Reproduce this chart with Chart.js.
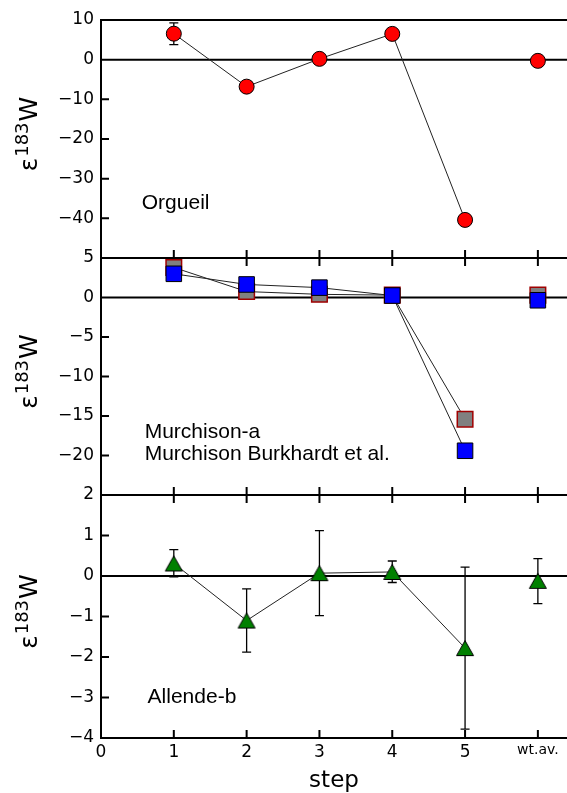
<!DOCTYPE html>
<html>
<head>
<meta charset="utf-8">
<script src="https://cdn.jsdelivr.net/npm/chart.js@4.4.1/dist/chart.umd.min.js"></script>
<style>
  html, body { margin: 0; padding: 0; background: #fff; }
  #wrap { position: relative; width: 567px; height: 793px; overflow: hidden; }
  #wrap canvas { position: absolute; left: 0; top: 0; }
</style>
</head>
<body>
<div id="wrap">
  <canvas id="orgueilChart" width="567" height="793"></canvas>
  <canvas id="murchisonChart" width="567" height="793"></canvas>
  <canvas id="allendeChart" width="567" height="793"></canvas>
</div>
<script>
// x positions: leaching steps 1-5, then the weighted average
const steps = [1, 2, 3, 4, 5, 6];
const stepTickLabels = ["0", "1", "2", "3", "4", "5", "wt.av."];

// Orgueil
const orgueil = [6.55, -6.8, 0.2, 6.5, -40.4, -0.3];
const orgueilLow = [3.8, null, null, null, null, null];
const orgueilHigh = [9.3, null, null, null, null, null];

// Murchison
const murchisonA = [3.8, 0.75, 0.4, 0.3, -15.4, 0.3];
const murchisonBurkhardt = [3.0, 1.65, 1.25, 0.25, -19.4, -0.35];

// Allende
const allendeB = [0.31, -1.1, 0.07, 0.1, -1.78, -0.12];
const allendeLow = [-0.02, -1.88, -0.98, -0.16, -3.78, -0.68];
const allendeHigh = [0.65, -0.32, 1.12, 0.37, 0.22, 0.43];

Chart.defaults.font.family = "'DejaVu Sans'";
Chart.defaults.color = "#000";

function points(values) {
  return steps.map((s, i) => ({ x: s, y: values[i] }));
}

function minus(v) {
  return v < 0 ? "\u2212" + Math.abs(v) : String(v);
}

// triangle marker centred on its bounding box (like matplotlib's '^')
function triangleMarker(fill) {
  const c = document.createElement("canvas");
  c.width = 22;
  c.height = 22;
  const g = c.getContext("2d");
  g.beginPath();
  g.moveTo(11, 3.5);
  g.lineTo(19.5, 18.5);
  g.lineTo(2.5, 18.5);
  g.closePath();
  g.fillStyle = fill;
  g.fill();
  g.lineWidth = 1;
  g.strokeStyle = "#000";
  g.stroke();
  return c;
}

const hideLastSegment = {
  borderColor: (c) => (c.p1DataIndex === steps.length - 1 ? "rgba(0,0,0,0)" : "#222"),
};

const panelFrame = {
  id: "panelFrame",
  beforeDatasetsDraw(chart, args, opts) {
    const { ctx, chartArea: a, scales: { x, y } } = chart;
    ctx.save();
    ctx.strokeStyle = "#000";
    ctx.lineWidth = 2;
    ctx.beginPath();
    ctx.moveTo(a.left, a.top);
    ctx.lineTo(a.right, a.top);
    ctx.moveTo(a.left, a.bottom);
    ctx.lineTo(a.right, a.bottom);
    ctx.moveTo(a.left, a.top - 1);
    ctx.lineTo(a.left, a.bottom + 1);
    const y0 = y.getPixelForValue(0);
    ctx.moveTo(a.left, y0);
    ctx.lineTo(a.right, y0);
    y.ticks.forEach((t) => {
      const py = y.getPixelForValue(t.value);
      ctx.moveTo(a.left, py);
      ctx.lineTo(a.left + 8, py);
    });
    steps.forEach((s) => {
      const px = x.getPixelForValue(s);
      ctx.moveTo(px, a.bottom);
      ctx.lineTo(px, a.bottom - 8);
      if (opts.topTicks) {
        ctx.moveTo(px, a.top);
        ctx.lineTo(px, a.top + 8);
      }
    });
    ctx.stroke();
    ctx.restore();
  },
  afterDraw(chart, args, opts) {
    const { ctx, chartArea: a, scales: { x, y } } = chart;
    ctx.save();
    // y axis title: epsilon ^183 W
    ctx.translate(37, (a.top + a.bottom) / 2 - 4);
    ctx.rotate(-Math.PI / 2);
    ctx.fillStyle = "#000";
    ctx.textBaseline = "alphabetic";
    const big = "25px 'DejaVu Sans'";
    const small = "18px 'DejaVu Sans'";
    ctx.font = big;
    const wE = ctx.measureText("\u03b5").width;
    const wW = ctx.measureText("W").width;
    ctx.font = small;
    const wS = ctx.measureText("183").width;
    const x0 = -(wE + wS + wW) / 2;
    ctx.font = big;
    ctx.fillText("\u03b5", x0, 0);
    ctx.font = small;
    ctx.fillText("183", x0 + wE + 1, -9);
    ctx.font = big;
    ctx.fillText("W", x0 + wE + wS + 2, 0);
    ctx.restore();

    ctx.save();
    ctx.fillStyle = "#000";
    ctx.font = "21px 'Liberation Sans'";
    ctx.textBaseline = "alphabetic";
    (opts.texts || []).forEach((t) => {
      ctx.fillText(t.text, x.getPixelForValue(t.x), y.getPixelForValue(t.y));
    });
    ctx.restore();
  },
};

const errorBars = {
  id: "errorBars",
  beforeDatasetsDraw(chart) {
    const { ctx, scales: { x, y } } = chart;
    ctx.save();
    ctx.strokeStyle = "#000";
    ctx.lineWidth = 1.3;
    chart.data.datasets.forEach((ds) => {
      if (!ds.errLow) return;
      ds.data.forEach((pt, i) => {
        const lo = ds.errLow[i];
        const hi = ds.errHigh[i];
        if (lo == null || hi == null) return;
        const px = x.getPixelForValue(pt.x);
        const yl = y.getPixelForValue(lo);
        const yh = y.getPixelForValue(hi);
        ctx.beginPath();
        ctx.moveTo(px, yl);
        ctx.lineTo(px, yh);
        ctx.moveTo(px - 4.5, yl);
        ctx.lineTo(px + 4.5, yl);
        ctx.moveTo(px - 4.5, yh);
        ctx.lineTo(px + 4.5, yh);
        ctx.stroke();
      });
    });
    ctx.restore();
  },
};

function buildPanel(canvasId, { datasets, yMin, yMax, yStep, top, bottom, showX, topTicks, texts }) {
  return new Chart(document.getElementById(canvasId), {
    type: "line",
    data: { datasets },
    options: {
      responsive: false,
      animation: false,
      devicePixelRatio: 1,
      events: [],
      layout: {
        autoPadding: false,
        padding: { top, bottom: showX ? 0 : 793 - bottom, left: 0, right: 0 },
      },
      plugins: {
        legend: { display: false },
        tooltip: { enabled: false },
        panelFrame: { topTicks, texts },
      },
      scales: {
        x: {
          type: "linear",
          min: 0,
          max: 6.4,
          display: showX,
          afterFit: (s) => { if (showX) s.height = 793 - bottom; },
          grid: { display: false, drawTicks: false },
          border: { display: false },
          ticks: {
            stepSize: 1,
            includeBounds: false,
            autoSkip: false,
            maxRotation: 0,
            padding: 4,
            font: (c) => ({ size: c.tick && c.tick.value === 6 ? 14 : 17 }),
            callback: (v) => stepTickLabels[v] ?? "",
          },
          title: {
            display: true,
            text: "step",
            font: { size: 23, lineHeight: 1 },
            padding: { top: 0, bottom: 0 },
          },
        },
        y: {
          min: yMin,
          max: yMax,
          afterFit: (s) => { s.width = 101; },
          grid: { display: false, drawTicks: false },
          border: { display: false },
          ticks: {
            stepSize: yStep,
            padding: 7,
            font: { size: 17 },
            callback: (v) => (v === yMin && !showX ? "" : minus(v)),
          },
        },
      },
    },
    plugins: [panelFrame, errorBars],
  });
}

buildPanel("orgueilChart", {
  yMin: -50, yMax: 10, yStep: 10, top: 20, bottom: 258, showX: false, topTicks: false,
  texts: [{ text: "Orgueil", x: 0.56, y: -37.7 }],
  datasets: [
    {
      data: points(orgueil),
      errLow: orgueilLow,
      errHigh: orgueilHigh,
      borderColor: "#222",
      borderWidth: 1,
      segment: hideLastSegment,
      pointStyle: "circle",
      pointRadius: 7.5,
      pointBackgroundColor: "#ff0000",
      pointBorderColor: "#000",
      pointBorderWidth: 1,
      clip: false,
    },
  ],
});

buildPanel("murchisonChart", {
  yMin: -25, yMax: 5, yStep: 5, top: 258, bottom: 495, showX: false, topTicks: true,
  texts: [
    { text: "Murchison-a", x: 0.6, y: -17.8 },
    { text: "Murchison Burkhardt et al.", x: 0.6, y: -20.55 },
  ],
  datasets: [
    {
      data: points(murchisonBurkhardt),
      order: 0,
      borderColor: "#222",
      borderWidth: 1,
      segment: hideLastSegment,
      pointStyle: "rect",
      pointRadius: 11,
      pointBackgroundColor: "#0000ff",
      pointBorderColor: "#000",
      pointBorderWidth: 1,
      clip: false,
    },
    {
      data: points(murchisonA),
      order: 1,
      borderColor: "#222",
      borderWidth: 1,
      segment: hideLastSegment,
      pointStyle: "rect",
      pointRadius: 11,
      pointBackgroundColor: "#808080",
      pointBorderColor: "#a00000",
      pointBorderWidth: 1.5,
      clip: false,
    },
  ],
});

buildPanel("allendeChart", {
  yMin: -4, yMax: 2, yStep: 1, top: 495, bottom: 738, showX: true, topTicks: true,
  texts: [{ text: "Allende-b", x: 0.64, y: -3.13 }],
  datasets: [
    {
      data: points(allendeB),
      errLow: allendeLow,
      errHigh: allendeHigh,
      borderColor: "#222",
      borderWidth: 1,
      segment: hideLastSegment,
      pointStyle: triangleMarker("#008000"),
      pointRadius: 9,
      clip: false,
    },
  ],
});
</script>
</body>
</html>
